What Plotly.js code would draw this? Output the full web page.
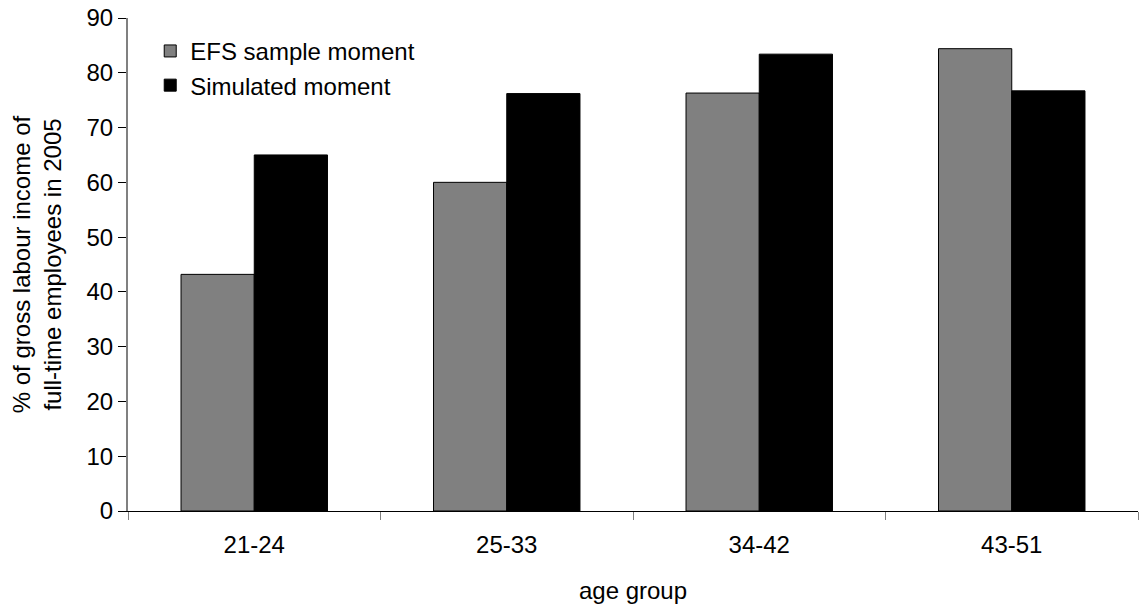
<!DOCTYPE html>
<html>
<head>
<meta charset="utf-8">
<script src="https://cdn.plot.ly/plotly-3.0.1.min.js"></script>
<style>
  html, body { margin: 0; padding: 0; background: #fff; }
  #chart { width: 1141px; height: 610px; }
</style>
</head>
<body>
<div id="chart"></div>
<script>
const categories = ["21-24", "25-33", "34-42", "43-51"];
const efsSample = [43.2, 60.0, 76.3, 84.4];
const simulated = [65.0, 76.2, 83.4, 76.7];
const seriesNames = ["EFS sample moment", "Simulated moment"];
const yTickValues = [0, 10, 20, 30, 40, 50, 60, 70, 80, 90];

const FONT = "Liberation Sans, Arial, Helvetica, sans-serif";

const traces = [
  {
    type: "bar",
    name: seriesNames[0],
    x: categories,
    y: efsSample,
    legendgroup: "a",
    marker: { color: "#808080", line: { color: "#000000", width: 1 } },
    hoverinfo: "x+y"
  },
  {
    type: "bar",
    name: seriesNames[1],
    x: categories,
    y: simulated,
    legendgroup: "b",
    marker: { color: "#000000", line: { color: "#000000", width: 1 } },
    hoverinfo: "x+y"
  }
];

const layout = {
  width: 1141,
  height: 610,
  paper_bgcolor: "#ffffff",
  plot_bgcolor: "#ffffff",
  font: { family: FONT, size: 24, color: "#000000" },
  margin: { l: 128, r: 3, t: 18, b: 99, pad: 0 },
  barmode: "group",
  bargap: 0.42,
  bargroupgap: 0,
  showlegend: true,
  legend: {
    x: 0.022,
    y: 0.978,
    xanchor: "left",
    yanchor: "top",
    bgcolor: "rgba(0,0,0,0)",
    borderwidth: 0,
    font: { family: FONT, size: 24, color: "#000000" },
    tracegroupgap: 21,
    traceorder: "normal"
  },
  xaxis: {
    type: "category",
    showgrid: false,
    zeroline: false,
    showline: true,
    linecolor: "#000000",
    linewidth: 1,
    ticks: "outside",
    tickson: "boundaries",
    ticklen: 8,
    tickcolor: "#808080",
    ticklabelstandoff: 12,
    tickfont: { family: FONT, size: 24, color: "#000000" },
    title: { text: "age group", font: { family: FONT, size: 24, color: "#000000" }, standoff: 25 },
    automargin: false
  },
  yaxis: {
    range: [0, 90],
    tickvals: yTickValues,
    showgrid: false,
    zeroline: false,
    showline: true,
    linecolor: "#808080",
    linewidth: 2,
    ticks: "outside",
    ticklen: 8,
    tickcolor: "#000000",
    tickfont: { family: FONT, size: 24, color: "#000000" },
    title: {
      text: "% of gross labour income of<br>full-time employees in 2005",
      font: { family: FONT, size: 24, color: "#000000" },
      standoff: 18
    },
    automargin: false
  }
};

Plotly.newPlot("chart", traces, layout, { staticPlot: true, displayModeBar: false });
</script>
</body>
</html>
